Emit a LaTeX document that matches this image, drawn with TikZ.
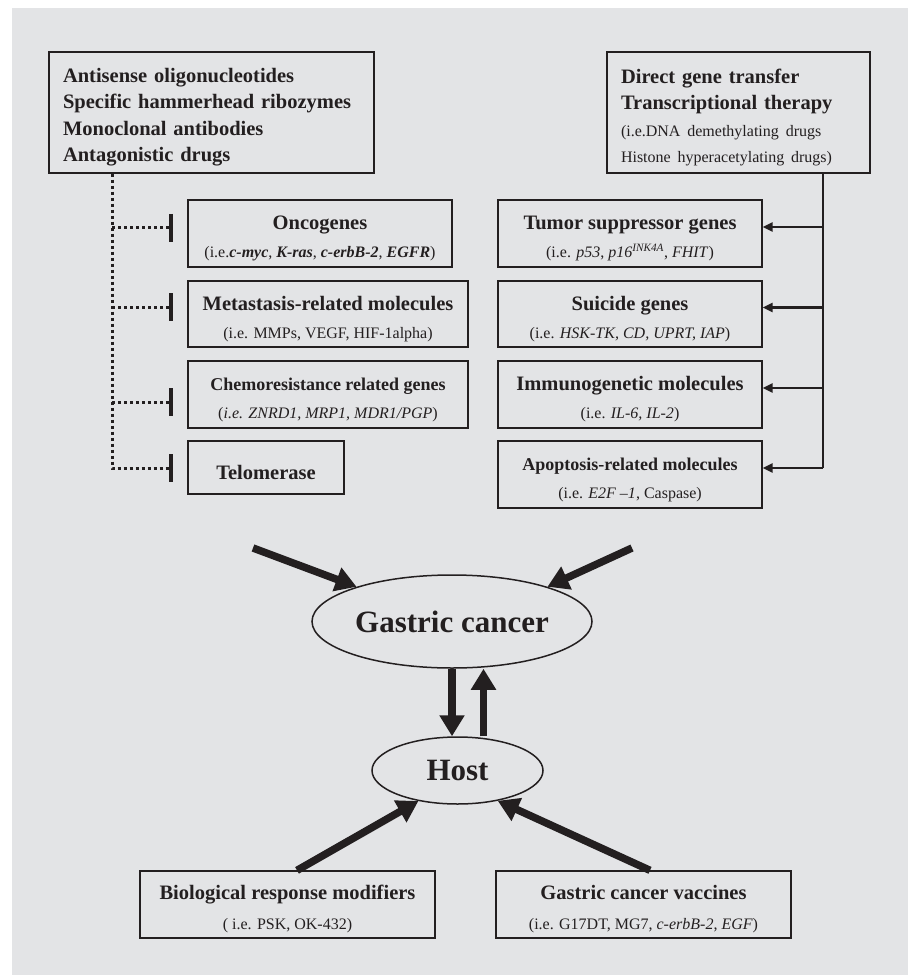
\documentclass[tikz,border=0pt]{standalone}
\usepackage{fontspec}
\setmainfont{Liberation Serif}
\usetikzlibrary{arrows.meta,shapes.geometric}
\definecolor{bgc}{HTML}{E3E4E6}
\definecolor{ink}{HTML}{231F20}
\newcommand{\listfont}{\fontsize{20.5}{26.5}\selectfont\bfseries}
\newcommand{\hdfont}{\fontsize{20.5}{28}\selectfont\bfseries}
\newcommand{\smhdfont}{\fontsize{18}{28}\selectfont\bfseries}
\newcommand{\notefont}{\fontsize{16}{28}\selectfont}
\newcommand{\bigfont}{\fontsize{31}{36}\selectfont\bfseries}
\newcommand{\bi}[1]{\textbf{\textit{#1}}}
\newcommand{\lift}{\rule{0pt}{24pt}}
\newcommand{\hd}[1]{{\hdfont\lift#1}}
\newcommand{\shd}[1]{{\smhdfont\lift#1}}
\begin{document}
\begin{tikzpicture}[x=1pt,y=-1pt,
    box/.style={draw=ink,line width=1.3pt,text=ink,align=center,inner sep=0pt,font=\notefont},
    oval/.style={ellipse,draw=ink,line width=1.5pt,text=ink,inner sep=0pt,font=\bigfont},
    inhib/.style={draw=ink,line width=3pt,dash pattern=on 3pt off 3pt,-{Bar[width=28pt,line width=4pt]}},
    feed/.style={draw=ink,line width=2.6pt,-{Triangle[length=10pt,width=9pt]}},
    big/.style={draw=ink,line width=7.5pt,-{Triangle[length=21pt,width=24pt]}}]
\useasboundingbox[fill=white] (0,0) rectangle (909,976);
\fill[bgc] (12,8) rectangle (908,975);
\node[box,minimum width=325pt,minimum height=121pt,text width=297pt,align=left,font=\listfont] (anti) at (211.5,112.5)
  {\lift Antisense oligonucleotides\\Specific hammerhead ribozymes\\Monoclonal antibodies\\Antagonistic drugs};
\node[box,minimum width=263pt,minimum height=121pt,text width=235pt,align=left,font=\listfont] (gene) at (738.5,112.5)
  {\lift Direct gene transfer\\Transcriptional therapy\\{\mdseries\notefont(i.e.DNA demethylating drugs}\\{\mdseries\notefont Histone hyperacetylating drugs)}};
\node[box,minimum width=264pt,minimum height=67pt] (onco) at (320,233.5)
  {\hd{Oncogenes}\\(i.e.\bi{c-myc}, \bi{K-ras}, \bi{c-erbB-2}, \bi{EGFR})};
\node[box,minimum width=280pt,minimum height=66pt] (meta) at (328,314)
  {\hd{Metastasis-related molecules}\\(i.e. MMPs, VEGF, HIF-1alpha)};
\node[box,minimum width=280pt,minimum height=67pt] (chemo) at (328,394.5)
  {\shd{Chemoresistance related genes}\\(\textit{i.e. ZNRD1, MRP1, MDR1/PGP})};
\node[box,minimum width=156pt,minimum height=53pt] (telo) at (266,467.5) {\hd{Telomerase}};
\node[box,minimum width=264pt,minimum height=67pt] (tumor) at (630,233.5)
  {\hd{Tumor suppressor genes}\\(i.e. \textit{p53}, \textit{p16}\textsuperscript{\textit{INK4A}}, \textit{FHIT})};
\node[box,minimum width=264pt,minimum height=66pt] (suic) at (630,314)
  {\hd{Suicide genes}\\(i.e. \textit{HSK-TK, CD, UPRT, IAP})};
\node[box,minimum width=264pt,minimum height=67pt] (immu) at (630,394.5)
  {\hd{Immunogenetic molecules}\\(i.e. \textit{IL-6, IL-2})};
\node[box,minimum width=264pt,minimum height=67pt] (apop) at (630,474.5)
  {\shd{Apoptosis-related molecules}\\(i.e. \textit{E2F --1}, Caspase)};
\node[oval,minimum width=280pt,minimum height=93pt] (gc) at (452,621.5) {Gastric cancer};
\node[oval,minimum width=171pt,minimum height=67pt] (host) at (457.5,770.5) {Host};
\node[box,minimum width=295pt,minimum height=67pt] (brm) at (287.5,904.5)
  {\hd{Biological response modifiers}\\[2pt]( i.e. PSK, OK-432)};
\node[box,minimum width=295pt,minimum height=67pt] (vac) at (643.5,904.5)
  {\hd{Gastric cancer vaccines}\\[2pt](i.e. G17DT, MG7, \textit{c-erbB-2}, \textit{EGF})};
\coordinate (spine) at (112,468);
\foreach \y [count=\i] in {228,307,402,468} \coordinate (bar\i) at (173,\y);
\draw[inhib] (anti.south -| spine) -- (spine) -- (bar4);
\foreach \i in {1,2,3} \draw[inhib] (spine |- bar\i) -- (bar\i);
\coordinate (rail) at (823,468);
\draw[ink,line width=2.6pt] (gene.south -| rail) -- (rail);
\foreach \n in {tumor,suic,immu,apop} {
  \path ([yshift=6.5pt]\n.east) coordinate (in-\n);
  \draw[feed] (rail |- in-\n) -- (in-\n);
}
\coordinate (srcL) at (253,548);
\coordinate (srcR) at (632,548);
\draw[big] (srcL) -- (gc.160);
\draw[big] (srcR) -- (gc.20);
\draw[big] (gc.south) -- (gc.south |- host.north);
\draw[big] ([xshift=26pt]host.north) -- ([xshift=26pt]host.north |- gc.south);
\draw[big] ([xshift=9.5pt]brm.north) -- (host.218);
\draw[big] ([xshift=6.5pt]vac.north) -- (host.-37);
\end{tikzpicture}
\end{document}
